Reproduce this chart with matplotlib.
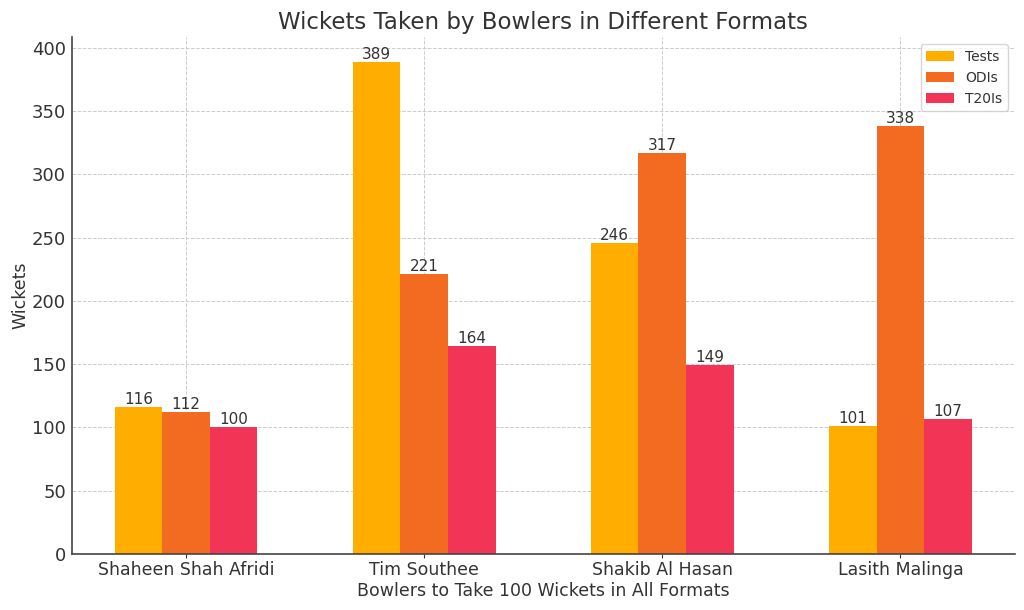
import numpy as np
import matplotlib.pyplot as plt

bowlers = ['Shaheen Shah Afridi', 'Tim Southee', 'Shakib Al Hasan', 'Lasith Malinga']
tests = [116, 389, 246, 101]
odis = [112, 221, 317, 338]
t20is = [100, 164, 149, 107]

plt.rcParams['text.color'] = '#333333'
plt.rcParams['axes.labelcolor'] = '#333333'
plt.rcParams['xtick.color'] = '#333333'
plt.rcParams['ytick.color'] = '#333333'

fig, ax = plt.subplots(figsize=(10.24, 6.1), dpi=100)
x = np.arange(len(bowlers))
w = 0.2

b1 = ax.bar(x - w, tests, w, label='Tests', color='#FFAE00')
b2 = ax.bar(x, odis, w, label='ODIs', color='#F26B21')
b3 = ax.bar(x + w, t20is, w, label='T20Is', color='#F23456')

for bars in (b1, b2, b3):
    ax.bar_label(bars, fontsize=11, padding=0)

ax.set_title('Wickets Taken by Bowlers in Different Formats', fontsize=16.5)
ax.set_xlabel('Bowlers to Take 100 Wickets in All Formats', fontsize=12.5, labelpad=2)
ax.set_ylabel('Wickets', fontsize=12.5, labelpad=2)
ax.set_xticks(x)
ax.set_xticklabels(bowlers, fontsize=12.5)
ax.tick_params(axis='y', labelsize=13, length=0, pad=4)
ax.tick_params(axis='x', length=3, pad=2)
ax.grid(True, linestyle='--', color='#cccccc', linewidth=0.7)
ax.set_axisbelow(True)
ax.spines['top'].set_visible(False)
ax.spines['right'].set_visible(False)
ax.spines['left'].set_color('#444444')
ax.spines['bottom'].set_color('#444444')
ax.spines['left'].set_linewidth(1.2)
ax.spines['bottom'].set_linewidth(1.2)
ax.legend(loc='upper right', fontsize=10)

fig.subplots_adjust(left=0.070, right=0.991, bottom=0.092, top=0.939)
plt.savefig('out.png')
